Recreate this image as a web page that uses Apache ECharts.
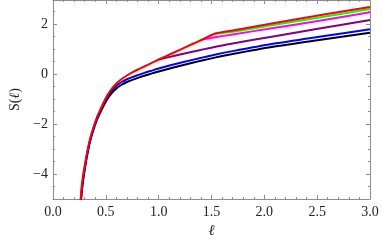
<!DOCTYPE html>
<html>
<head>
<meta charset="utf-8">
<script src="https://cdn.jsdelivr.net/npm/echarts@6/dist/echarts.min.js"></script>
<style>
  html, body { margin: 0; padding: 0; background: #fff; }
  #chart { width: 382px; height: 247px; }
</style>
</head>
<body>
<div id="chart"></div>
<script>
const SERIF = '"Liberation Serif", "DejaVu Serif", serif';
const FRAME = "#8c8c8c";

// ℓ grid the curves were read at
const ELL = [0.25, 0.266, 0.28, 0.306, 0.33, 0.353, 0.38, 0.415, 0.436, 0.47, 0.51, 0.55, 0.6, 0.65,
  0.7, 0.75, 0.817, 0.864, 0.93, 1.0, 1.14, 1.33, 1.42, 1.53, 1.7, 2.07, 2.535, 3.0];

// S(ℓ); null = curve hidden under the red one there
const S_BLACK = [-5.9, -5.0, -4.4, -3.66, -3.1, -2.66, -2.27, -1.84, -1.64, -1.34, -1.03, -0.79, -0.58, -0.43,
  -0.32, -0.235, -0.135, -0.07, 0.015, 0.1, 0.26, 0.46, 0.55, 0.655, 0.8, 1.08, 1.37, 1.65];
const S_BLUE = [-5.86, -4.96, -4.36, -3.62, -3.05, -2.61, -2.21, -1.78, -1.57, -1.26, -0.94, -0.69, -0.47, -0.32,
  -0.21, -0.125, -0.025, 0.045, 0.13, 0.22, 0.38, 0.575, 0.665, 0.77, 0.915, 1.2, 1.5, 1.79];
const S_PURPLE = [null, null, null, null, null, null, null, null, null, null, null, null, null, null,
  null, null, null, null, null, 0.58, 0.72, 0.9, 0.985, 1.08, 1.22, 1.49, 1.83, 2.16];
const S_MAGENTA = [null, null, null, null, null, null, null, null, null, null, null, null, null, null,
  null, null, null, null, null, null, null, null, 1.39, 1.47, 1.58, 1.83, 2.14, 2.47];
const S_GREEN = [null, null, null, null, null, null, null, null, null, null, null, null, null, null,
  null, null, null, null, null, null, null, null, null, 1.61, 1.69, 1.95, 2.27, 2.6];
const S_RED = [-5.6, -4.75, -4.2, -3.52, -2.98, -2.56, -2.17, -1.74, -1.54, -1.22, -0.88, -0.62, -0.38, -0.2,
  -0.06, 0.065, 0.205, 0.3, 0.435, 0.58, 0.85, 1.22, 1.39, 1.61, 1.74, 2.02, 2.36, 2.68];

const Y_LABELS = [-4, -2, 0, 2];

const chart = echarts.init(document.getElementById("chart"), null, { renderer: "canvas" });

const curve = (vals, color) => ({
  type: "line",
  data: ELL.map((x, i) => [x, vals[i]]),
  showSymbol: false,
  smooth: 0.25,
  connectNulls: false,
  clip: true,
  animation: false,
  lineStyle: { color, width: 2, join: "round" },
  itemStyle: { color },
});

const xFrame = (pos, labels) => ({
  type: "value",
  position: pos,
  min: 0,
  max: 3,
  interval: 0.5,
  axisLine: { show: true, onZero: false, lineStyle: { color: FRAME, width: 1 } },
  axisTick: { show: true, inside: true, length: 4, lineStyle: { color: FRAME } },
  minorTick: { show: true, splitNumber: 5, length: 2, lineStyle: { color: FRAME } },
  splitLine: { show: false },
  axisLabel: {
    show: labels,
    margin: 6,
    color: "#222",
    fontFamily: SERIF,
    fontSize: 14,
    formatter: (v) => v.toFixed(1),
  },
});

const yFrame = (pos, labels) => ({
  type: "value",
  position: pos,
  min: -5,
  max: 2.96,
  interval: 0.5,
  axisLine: { show: true, onZero: false, lineStyle: { color: FRAME, width: 1 } },
  axisTick: { show: true, inside: true, length: 2, lineStyle: { color: FRAME } },
  splitLine: { show: false },
  axisLabel: {
    show: labels,
    margin: 5,
    color: "#222",
    fontFamily: SERIF,
    fontSize: 14,
    formatter: (v) => (Y_LABELS.includes(v) ? String(v).replace("-", "\u2212") : ""),
  },
});

// long ticks at the labelled values
const yMajor = (pos) => ({
  type: "value",
  position: pos,
  min: -5,
  max: 2.96,
  interval: 0.5,
  axisLine: { show: false, onZero: false },
  axisTick: { show: true, inside: true, length: 4, customValues: Y_LABELS, lineStyle: { color: FRAME } },
  splitLine: { show: false },
  axisLabel: { show: false },
});

chart.setOption({
  backgroundColor: "#fff",
  animation: false,
  grid: { left: 47, right: 12, top: 0, bottom: 48 },
  xAxis: [
    Object.assign(xFrame("bottom", true), {
      name: "\u2113",
      nameLocation: "middle",
      nameGap: 25,
      nameTextStyle: { fontFamily: SERIF, fontStyle: "italic", fontSize: 15, color: "#222" },
    }),
    xFrame("top", false),
  ],
  yAxis: [
    Object.assign(yFrame("left", true), {
      name: "{n|S(}{l|\u2113}{n|)}",
      nameLocation: "middle",
      nameGap: 31,
      nameTextStyle: {
        rich: {
          n: { fontFamily: SERIF, fontSize: 14, color: "#222" },
          l: { fontFamily: SERIF, fontSize: 14, fontStyle: "italic", color: "#222" },
        },
      },
    }),
    yFrame("right", false),
    yMajor("left"),
    yMajor("right"),
  ],
  series: [
    curve(S_BLACK, "#000000"),
    curve(S_BLUE, "#0000ff"),
    curve(S_PURPLE, "#800080"),
    curve(S_MAGENTA, "#ff00ff"),
    curve(S_GREEN, "#00ff00"),
    curve(S_RED, "#ff0000"),
  ],
});
</script>
</body>
</html>
